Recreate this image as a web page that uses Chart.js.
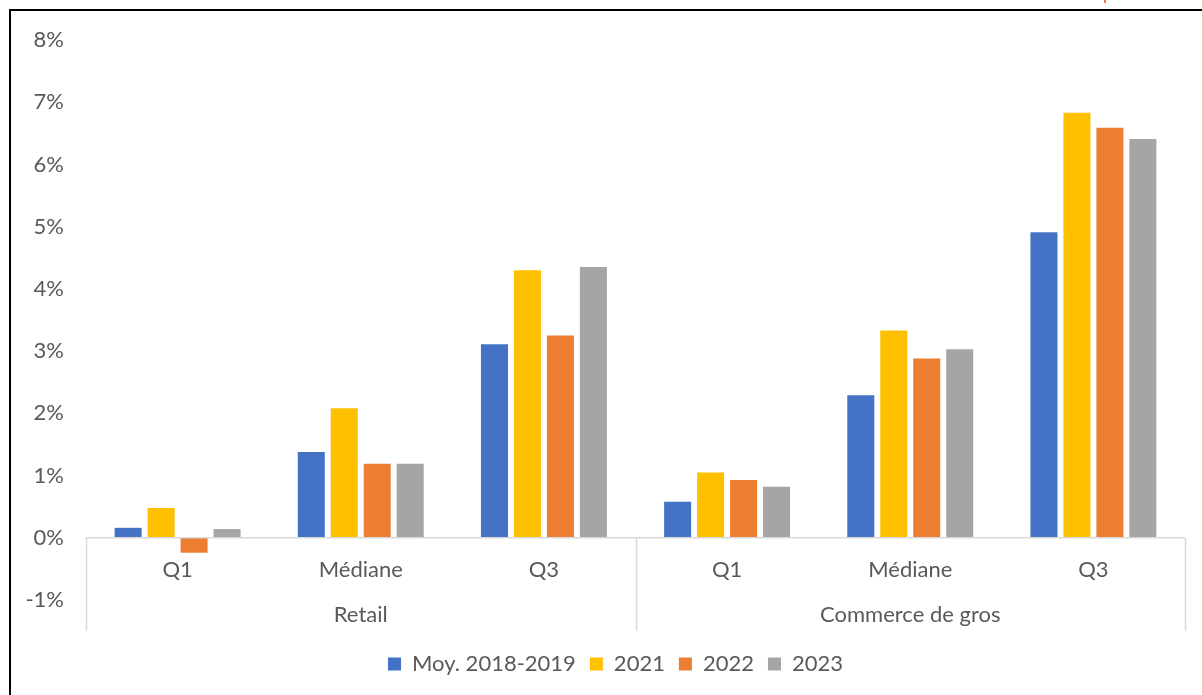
<!DOCTYPE html>
<html lang="fr">
<head>
<meta charset="utf-8">
<title>Quartiles</title>
<script src="https://cdn.jsdelivr.net/npm/chart.js@4.4.1/dist/chart.umd.min.js"></script>
<style>
    html, body {
        margin: 0;
        padding: 0;
        background: #fff;
    }
    .wrap {
        position: relative;
        width: 1202px;
        height: 695px;
        overflow: hidden;
    }
    .frame {
        position: absolute;
        left: 9px;
        top: 9px;
        width: 1300px;
        height: 800px;
        border-top: 2px solid #000;
        border-left: 2px solid #000;
        pointer-events: none;
    }
    .mark {
        position: absolute;
        left: 1104px;
        top: 0;
        width: 2px;
        height: 3px;
        background: #ed7d31;
    }
    canvas {
        position: absolute;
        left: 0;
        top: 0;
    }
</style>
</head>
<body>
<div class="wrap">
    <canvas id="quartileChart" width="1202" height="695"></canvas>
    <div class="frame"></div>
    <div class="mark"></div>
</div>

<script>
// Data
const categories = ['Q1', 'Médiane', 'Q3', 'Q1', 'Médiane', 'Q3'];
const groups = ['Retail', 'Commerce de gros'];
const seriesNames = ['Moy. 2018-2019', '2021', '2022', '2023'];
const moy2018_2019 = [0.16, 1.38, 3.11, 0.58, 2.29, 4.91];
const y2021 = [0.48, 2.08, 4.30, 1.05, 3.33, 6.83];
const y2022 = [-0.24, 1.19, 3.25, 0.93, 2.88, 6.59];
const y2023 = [0.14, 1.19, 4.35, 0.82, 3.03, 6.41];
const yTicks = [-1, 0, 1, 2, 3, 4, 5, 6, 7, 8];

const colors = ['#4472C4', '#FFC000', '#ED7D31', '#A5A5A5'];
const textColor = '#595959';
const lineColor = '#d9d9d9';
const fontFamily = 'Lato, "Open Sans", sans-serif';

// Category labels, group labels and dividers under the zero line
const groupAxisPlugin = {
    id: 'groupAxis',
    afterLayout(chart) {
        // legend sits a bit right of the canvas centre in the original
        if (chart.legend) chart.legend.left += 46;
    },
    afterDraw(chart) {
        const { ctx, chartArea, scales: { x, y } } = chart;
        const zeroY = y.getPixelForValue(0);
        const step = (chartArea.right - chartArea.left) / categories.length;

        ctx.save();
        ctx.strokeStyle = lineColor;
        ctx.lineWidth = 1.5;

        // zero line
        ctx.beginPath();
        ctx.moveTo(chartArea.left, zeroY);
        ctx.lineTo(chartArea.right, zeroY);
        ctx.stroke();

        // group dividers
        [0, 3, 6].forEach(i => {
            const px = Math.round(chartArea.left + i * step) + 0.5;
            ctx.beginPath();
            ctx.moveTo(px, zeroY);
            ctx.lineTo(px, zeroY + 93);
            ctx.stroke();
        });

        ctx.fillStyle = textColor;
        ctx.font = '22px ' + fontFamily;
        ctx.textAlign = 'center';
        ctx.textBaseline = 'middle';

        categories.forEach((label, i) => {
            ctx.fillText(label, x.getPixelForValue(i), zeroY + 32);
        });

        groups.forEach((label, g) => {
            ctx.fillText(label, x.getPixelForValue(g * 3 + 1), zeroY + 77);
        });

        ctx.restore();
    }
};

// Initialize chart
const ctx = document.getElementById('quartileChart').getContext('2d');
const seriesData = [moy2018_2019, y2021, y2022, y2023];

new Chart(ctx, {
    type: 'bar',
    data: {
        labels: categories,
        datasets: seriesNames.map((name, i) => ({
            label: name,
            data: seriesData[i],
            backgroundColor: colors[i],
            borderWidth: 0,
            categoryPercentage: 0.72,
            barPercentage: 0.82
        }))
    },
    options: {
        responsive: false,
        devicePixelRatio: 1,
        animation: false,
        layout: {
            padding: { left: 0, top: 40, right: 17, bottom: 10 }
        },
        plugins: {
            legend: {
                position: 'bottom',
                labels: {
                    boxWidth: 13,
                    boxHeight: 13,
                    padding: 14,
                    color: textColor,
                    font: { family: fontFamily, size: 22 }
                }
            },
            tooltip: { enabled: false }
        },
        scales: {
            x: {
                grid: { display: false },
                border: { display: false },
                ticks: { display: false },
                afterFit: scale => { scale.height = 39; }
            },
            y: {
                min: -1,
                max: 8,
                afterBuildTicks: scale => {
                    scale.ticks = yTicks.map(v => ({ value: v }));
                },
                grid: { display: false, drawTicks: false },
                border: { display: false },
                ticks: {
                    padding: 22,
                    color: textColor,
                    font: { family: fontFamily, size: 22 },
                    callback: value => value + '%'
                },
                afterFit: scale => { scale.width = 86; }
            }
        }
    },
    plugins: [groupAxisPlugin]
});
</script>
</body>
</html>
